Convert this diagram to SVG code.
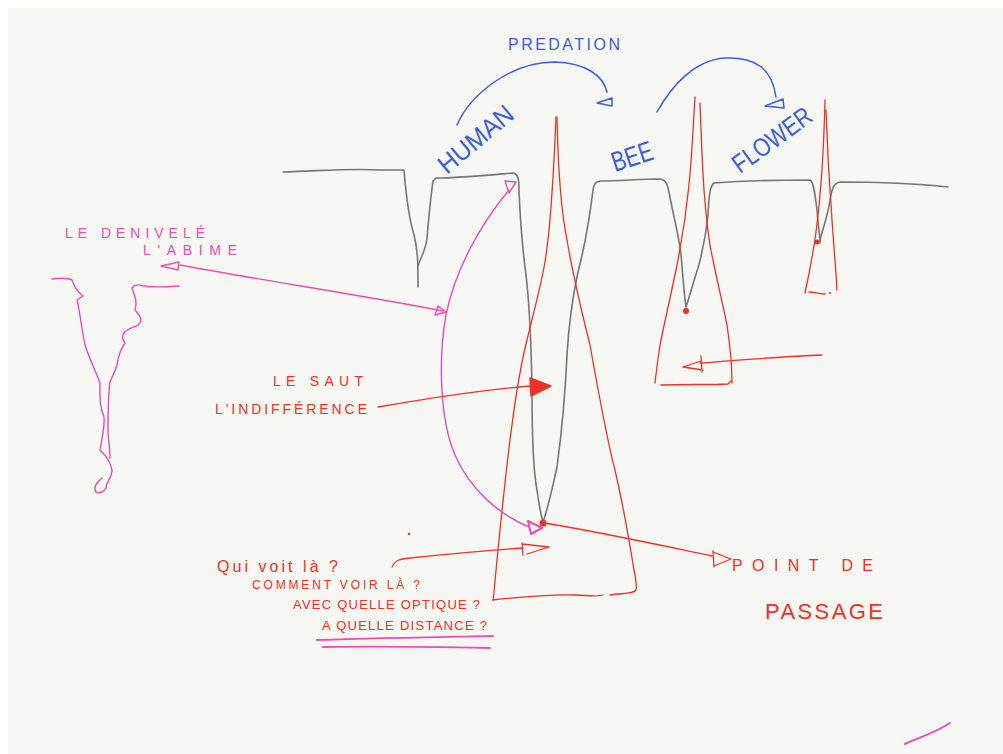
<svg xmlns="http://www.w3.org/2000/svg" width="1003" height="754" viewBox="0 0 1003 754">
<style>
.g{fill:none;stroke:#767676;stroke-width:1.6;stroke-linecap:round;stroke-linejoin:round}
.r{fill:none;stroke:#ee3127;stroke-width:1.3;stroke-linecap:round;stroke-linejoin:round}
.p{fill:none;stroke:#eb4db3;stroke-width:1.4;stroke-linecap:round;stroke-linejoin:round}
.b{fill:none;stroke:#3b5ce0;stroke-width:1.5;stroke-linecap:round;stroke-linejoin:round}
text{font-family:"Liberation Sans",Arial,sans-serif;lengthAdjust:spacing}
.tr{fill:#ee3127}
.tp{fill:#eb4db3}
.tb{fill:#3b5ce0}
</style>
<rect x="0" y="0" width="1003" height="754" fill="#ffffff"/>
<rect x="8" y="8" width="995" height="746" fill="#f7f7f3"/>

<g id="ground">
<path class="g" d="M283,172 C320,171 350,168 380,170 L404,170 C406,195 408,215 414,235 C418,250 418,265 418,287"/>
<path class="g" d="M418,266 C421,256 426,250 427,238 C429,215 431,195 433,181 L436,178 C460,178 490,175 513,173 C518,174 519,178 519,190 C520,215 522,245 526,275 C529,300 531,330 532,390 C532,440 533,470 537,490 C539,505 541,515 543,522"/>
<path class="g" d="M543,522 C549,505 554,480 557,467 C562,430 565,400 567,355 C569,320 572,300 578,272 C585,245 590,215 593,190 C594,183 596,182 600,181 C620,181 640,179 660,179 C666,180 667,183 669,192 C673,215 679,235 681,255 C683,275 684,295 686,307 C689,298 694,280 698,268 C703,250 706,235 708,215 C709,195 710,186 714,183 C740,181 780,180 810,180 C814,182 815,195 817,210 C818,225 820,235 820,243"/>
<path class="g" d="M820,240 C823,228 828,215 830,200 C832,188 834,183 840,182 C880,182 920,184 948,187"/>
</g>

<g id="human-cone">
<path class="r" d="M556,117 C554,160 552,220 545,262 C540,290 533,315 527,340 C518,375 514,410 510,440 C505,480 500,530 497,560 C495,580 494,595 493,600"/>
<path class="r" d="M557,117 C558,170 562,215 567,240 C573,275 580,305 590,345 C598,390 607,440 615,470 C623,505 630,545 634,570 C636,580 637,588 636,590 C633,594 625,593 610,595"/>
<path class="r" d="M493,600 C520,597 550,594 575,595 C590,596 600,596 603,595"/>
<circle cx="543" cy="523" r="3.5" fill="#ee3127"/>
</g>

<g id="bee-cone">
<path class="r" d="M695,97 C693,130 692,155 689,185 C686,215 682,240 677,265 C672,290 665,320 660,345 C657,365 656,375 655,383"/>
<path class="r" d="M700,103 C701,130 702,160 704,190 C706,215 708,240 713,260 C718,285 723,305 727,325 C730,345 732,370 732,383"/>
<path class="r" d="M661,385 C685,384 710,385 728,384 L731,381"/>
<circle cx="686" cy="311" r="3" fill="#ee3127"/>
</g>

<g id="flower-cone">
<path class="r" d="M825,100 C824,140 822,180 818,215 C815,245 810,270 805,293"/>
<path class="r" d="M826,110 C827,140 829,180 832,220 C834,250 836,270 837,290"/>
<path class="r" d="M809,292 C815,292 820,294 825,294"/>
<circle cx="830" cy="293" r="1" fill="#ee3127"/>
<circle cx="817" cy="242" r="2.5" fill="#ee3127"/>
</g>

<g id="canyon">
<path class="p" d="M52,279 C60,278 68,278 72,280 C74,285 75,290 83,296 L77,300 C80,310 82,335 86,348 C90,360 96,372 100,383 C100,395 99,405 104,417 C105,425 103,433 100,450 C105,455 110,460 112,470 C112,478 106,482 106,488 C104,492 98,494 96,492 C93,488 95,484 102,478"/>
<path class="p" d="M179,286 C165,287 150,287 143,286 C138,284 134,285 132,288 C134,295 138,300 135,310 C140,316 144,320 138,325 C133,328 128,328 124,333 C121,337 123,340 125,343 C120,350 118,358 117,365 C115,372 112,377 110,382 C108,395 108,415 108,433 C109,445 110,450 110,458"/>
</g>

<g id="connectors">
<path class="b" d="M457,125 C470,95 510,62 555,62 C585,63 603,75 607,92"/>
<path class="b" d="M597,103 L612,98 L612,106 Z"/>
<path class="b" d="M657,112 C672,85 695,60 725,58 C755,57 772,68 776,97"/>
<path class="b" d="M765,106 L783,99 L784,108 Z"/>

<path class="p" d="M180,265 C260,280 360,295 443,311"/>
<path class="p" d="M179,262 L161,266 L178,270 Z"/>
<path class="p" d="M438,306 L446,312 L435,315 Z"/>
<path class="p" d="M509,190 C480,225 455,270 446,315 C438,360 440,420 455,455 C470,490 500,515 529,527"/>
<path class="p" d="M505,181 L516,182 L509,193 Z"/>
<path class="p" style="stroke-width:2" d="M528,521 L531,534 L542,528 Z"/>
<path class="p" style="stroke-width:1.8" d="M317,640 C380,638 440,637 493,636"/>
<path class="p" style="stroke-width:1.8" d="M323,647 C380,646 440,647 490,648"/>
<path class="p" style="stroke-width:2" d="M905,744 C920,737 935,733 950,723"/>

<path class="r" d="M378,407 C430,398 480,390 530,386"/>
<path d="M530,378 L551,386 L531,396 Z" fill="#ee3127" stroke="#ee3127" stroke-width="1.5" stroke-linejoin="round"/>
<path class="r" d="M822,355 C790,356 740,360 700,363"/>
<path class="r" d="M701,356 L702,372 M701,361 L683,367 L703,370"/>
<path class="r" d="M392,567 C395,560 400,559 410,558 C450,554 490,550 523,548"/>
<path class="r" d="M522,543 L523,555 M522,544 L549,547 L527,554"/>
<path class="r" d="M544,523 C600,532 650,543 712,556"/>
<path class="r" d="M713,551 L714,567 M713,552 L731,559 L714,566"/>
<circle cx="409" cy="534" r="1.2" fill="#ee3127"/>
</g>

<g id="labels">
<text class="tb" x="508" y="50" font-size="16" textLength="112" lengthAdjust="spacing">PREDATION</text>
<text class="tb" font-size="26" textLength="90" lengthAdjust="spacingAndGlyphs" transform="translate(447,175) rotate(-40)">HUMAN</text>
<text class="tb" font-size="28" textLength="42" lengthAdjust="spacingAndGlyphs" transform="translate(615,172) rotate(-18)">BEE</text>
<text class="tb" font-size="26" textLength="92" lengthAdjust="spacingAndGlyphs" transform="translate(740,174) rotate(-36)">FLOWER</text>

<text class="tp" x="65" y="238" font-size="14" textLength="140" lengthAdjust="spacing">LE DENIVELÉ</text>
<text class="tp" x="143" y="255" font-size="14" textLength="94" lengthAdjust="spacing">L'ABIME</text>

<text class="tr" x="273" y="386" font-size="14" textLength="90" lengthAdjust="spacing">LE SAUT</text>
<text class="tr" x="215" y="414" font-size="14" textLength="152" lengthAdjust="spacing">L'INDIFFÉRENCE</text>

<text class="tr" x="217" y="572" font-size="16" textLength="121" lengthAdjust="spacing">Qui voit là ?</text>
<text class="tr" x="252" y="589" font-size="12" textLength="168" lengthAdjust="spacing">COMMENT VOIR LÀ ?</text>
<text class="tr" x="293" y="609" font-size="13" textLength="187" lengthAdjust="spacing">AVEC QUELLE OPTIQUE ?</text>
<text class="tr" x="322" y="630" font-size="13" textLength="165" lengthAdjust="spacing">A QUELLE DISTANCE ?</text>

<text class="tr" x="732" y="571" font-size="16" textLength="141" lengthAdjust="spacing">POINT DE</text>
<text class="tr" x="765" y="619" font-size="22" textLength="118" lengthAdjust="spacing">PASSAGE</text>
</g>
</svg>
